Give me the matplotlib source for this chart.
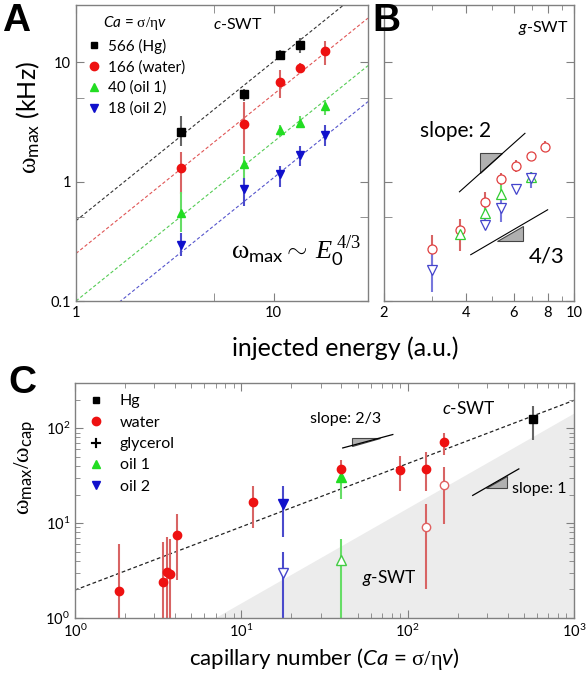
import numpy as np
import matplotlib
matplotlib.use("Agg")
import matplotlib.pyplot as plt
from matplotlib.lines import Line2D
from matplotlib.patches import Polygon
from matplotlib.ticker import FixedLocator, NullFormatter, FixedFormatter, LogLocator

plt.rcParams['font.family'] = ['Lato', 'DejaVu Sans']
plt.rcParams['mathtext.fontset'] = 'custom'
plt.rcParams['mathtext.rm'] = 'Liberation Serif'
plt.rcParams['mathtext.it'] = 'Lato:italic'
plt.rcParams['mathtext.sf'] = 'Lato'
plt.rcParams['mathtext.bf'] = 'Liberation Serif:italic'   # used for the serif italic E

# ---- panel A : c-SWT, omega_max vs injected energy ----
energy_a = [3.4, 7.1, 10.8, 13.6, 18.2]
hg_a = [2.58, 5.4, 11.4, 13.9]
hg_a_lo = [2.0, 4.7, 10.4, 11.9]
hg_a_hi = [3.5, 6.0, 12.6, 15.9]
water_a = [1.29, 3.0, 6.8, 8.9, 12.3]
water_a_lo = [0.78, 1.7, 5.0, 8.1, 9.5]
water_a_hi = [1.75, 4.6, 8.6, 9.8, 15.0]
oil1_a = [0.54, 1.39, 2.7, 3.1, 4.3]
oil1_a_lo = [0.38, 0.93, 2.4, 2.8, 3.6]
oil1_a_hi = [0.82, 1.65, 2.95, 3.5, 4.8]
oil2_a = [0.295, 0.86, 1.15, 1.66, 2.45]
oil2_a_lo = [0.24, 0.62, 0.9, 1.34, 1.97]
oil2_a_hi = [0.37, 1.06, 1.36, 2.0, 2.95]
fit_a_prefactor = [0.47, 0.25, 0.1, 0.05]   # Hg, water, oil1, oil2 ; exponent 4/3
labels_a = ['566 (Hg)', '166 (water)', '40 (oil 1)', '18 (oil 2)']

# ---- panel B : g-SWT ----
water_b_x = [3.0, 3.8, 4.7, 5.4, 6.1, 6.95, 7.8]
water_b = [0.27, 0.39, 0.68, 1.04, 1.36, 1.62, 1.96]
water_b_lo = [0.2, 0.26, 0.54, 0.93, 1.21, 1.54, 1.82]
water_b_hi = [0.36, 0.49, 0.82, 1.17, 1.5, 1.7, 2.17]
oil1_b_x = [3.8, 4.7, 5.4, 6.95]
oil1_b = [0.365, 0.54, 0.79, 1.1]
oil1_b_lo = [0.33, 0.49, 0.7, 1.0]
oil1_b_hi = [0.41, 0.6, 0.93, 1.2]
oil2_b_x = [3.0, 4.7, 5.4, 6.1, 6.95]
oil2_b = [0.18, 0.435, 0.60, 0.86, 1.06]
oil2_b_lo = [0.12, 0.41, 0.46, 0.82, 0.88]
oil2_b_hi = [0.26, 0.49, 0.72, 0.9, 1.2]

# ---- panel C : omega_max/omega_cap vs capillary number ----
water_ca = [1.85, 3.40, 3.56, 3.74, 4.12, 11.8, 39.6, 90, 129, 166]
water_c = [1.94, 2.39, 3.05, 2.88, 7.48, 16.8, 37.3, 36.7, 37.3, 71.3]
water_c_lo = [0.5, 0.5, 0.5, 0.5, 2.5, 8.8, 31, 21.7, 22, 52]
water_c_hi = [5.97, 6.3, 7.1, 6.8, 12.4, 24.5, 46, 50.7, 56.5, 90]
water_open_ca = [129, 166]
water_open_c = [9.0, 25]
water_open_lo = [2.0, 9.9]
water_open_hi = [15.9, 38.6]
hg_ca = [570]
hg_c = [124]
hg_c_lo = [75]
hg_c_hi = [172]
oil1_ca = [40]
oil1_c = [30.3]
oil1_c_lo = [17.8]
oil1_c_hi = [40]
oil1_open_c = [4.08]
oil1_open_lo = [0.5]
oil1_open_hi = [6.8]
oil2_ca = [17.9]
oil2_c = [15.9]
oil2_c_lo = [7.1]
oil2_c_hi = [24.5]
oil2_open_c = [2.95]
oil2_open_lo = [0.5]
oil2_open_hi = [5.0]
fit_c_prefactor = 1.97      # exponent 2/3
gswt_bound = 6.9            # omega ratio = Ca / 6.9

BLACK, RED, GREEN, BLUE = '#000000', '#ee1111', '#22dd22', '#1010cc'
EBLACK, ERED, EGREEN, EBLUE = '#666666', '#d86464', '#66dd66', '#4a4acc'
SPINE = '#808080'


def errs(y, lo, hi):
    y = np.asarray(y)
    return [y - np.asarray(lo), np.asarray(hi) - y]


def style(ax):
    for s in ax.spines.values():
        s.set_color(SPINE)
        s.set_linewidth(1.0)
    ax.tick_params(which='both', direction='in', top=True, right=True,
                   color=SPINE, labelsize=10.5)
    ax.tick_params(which='major', length=6)
    ax.tick_params(which='minor', length=3.5)


fig = plt.figure(figsize=(5.86, 6.84), dpi=100)
axA = fig.add_axes([76 / 586, 1 - 301 / 684, 292 / 586, 296 / 684])
axB = fig.add_axes([384 / 586, 1 - 301 / 684, 190 / 586, 296 / 684])
axC = fig.add_axes([75 / 586, 1 - 618 / 684, 499 / 586, 235 / 684])

# ---------------- A ----------------
ax = axA
ax.set_xscale('log')
ax.set_yscale('log')
ax.set_xlim(1, 30)
ax.set_ylim(0.1, 30)
xx = np.array([1, 30])
for k, c in zip(fit_a_prefactor, ['#333333', '#e05555', '#55cc55', '#5555cc']):
    ax.plot(xx, k * xx ** (4 / 3), ls=(0, (3, 2)), lw=0.8, color=c, zorder=1)
series = [(energy_a[:4], hg_a, hg_a_lo, hg_a_hi, 's', BLACK, EBLACK),
          (energy_a, water_a, water_a_lo, water_a_hi, 'o', RED, ERED),
          (energy_a, oil1_a, oil1_a_lo, oil1_a_hi, '^', GREEN, EGREEN),
          (energy_a, oil2_a, oil2_a_lo, oil2_a_hi, 'v', BLUE, EBLUE)]
handles = []
for (x, y, lo, hi, m, c, ec), lab in zip(series, labels_a):
    ax.errorbar(x, y, yerr=errs(y, lo, hi), fmt='none', ecolor=ec, elinewidth=1.5, zorder=2)
    ax.plot(x, y, ls='none', marker=m, ms=6 if m != 's' else 5.5, color=c, zorder=3)
    handles.append(Line2D([], [], ls='none', marker=m, ms=6 if m != 's' else 5, color=c, label=lab))
leg = ax.legend(handles=handles, loc='upper left', frameon=False, fontsize=11,
                title=r'$\mathit{Ca}$ = $\mathrm{\sigma/\eta}\mathit{v}$', title_fontsize=11,
                handletextpad=0.3, labelspacing=0.42, borderaxespad=0.2, handlelength=1.2,
                bbox_to_anchor=(0.0, 1.0))
ax.text(0.47, 0.92, r'$\mathit{c}$-SWT', transform=ax.transAxes, fontsize=11.5)
ax.text(0.53, 0.14, r'$\mathrm{\omega}_{\mathsf{max}}\mathsf{\sim}\,\mathbf{E}_{\mathsf{0}}^{\ \mathrm{4/3}}$',
        transform=ax.transAxes, fontsize=19)
ax.xaxis.set_major_locator(FixedLocator([1, 10]))
ax.xaxis.set_major_formatter(FixedFormatter(['1', '10']))
ax.xaxis.set_minor_locator(FixedLocator([5]))
ax.xaxis.set_minor_formatter(NullFormatter())
ax.yaxis.set_major_locator(FixedLocator([0.1, 1, 10]))
ax.yaxis.set_major_formatter(FixedFormatter(['0.1', '1', '10']))
ax.yaxis.set_minor_locator(FixedLocator([0.5, 5]))
ax.yaxis.set_minor_formatter(NullFormatter())
style(ax)
ax.tick_params(which='minor', length=6)
ax.set_ylabel(r'$\mathrm{\omega}_{\mathsf{max}}$ (kHz)', fontsize=18)
ax.yaxis.set_label_coords(-0.115, 0.62)

# ---------------- B ----------------
ax = axB
ax.set_xscale('log')
ax.set_yscale('log')
ax.set_xlim(2, 10)
ax.set_ylim(0.1, 30)
for x, y, lo, hi, m, c, ec in [(water_b_x, water_b, water_b_lo, water_b_hi, 'o', '#e04040', ERED),
                               (oil1_b_x, oil1_b, oil1_b_lo, oil1_b_hi, '^', '#33cc33', EGREEN),
                               (oil2_b_x, oil2_b, oil2_b_lo, oil2_b_hi, 'v', '#4444cc', '#7777dd')]:
    ax.errorbar(x, y, yerr=errs(y, lo, hi), fmt='none', ecolor=ec, elinewidth=1.5, zorder=2)
    ax.plot(x, y, ls='none', marker=m, ms=6.5, mfc='white', mec=c, mew=0.9, zorder=3)
# slope guides
ax.plot([3.79, 6.6], [0.82, 2.53], color='black', lw=0.8)
ax.add_patch(Polygon([[4.5, 1.17], [4.5, 1.72], [5.42, 1.72]], closed=True,
                     fc='#b0b0b0', ec='#444444', lw=0.8))
ax.plot([4.17, 8.0], [0.244, 0.58], color='black', lw=0.8)
ax.add_patch(Polygon([[5.2, 0.319], [6.49, 0.319], [6.49, 0.427]], closed=True,
                     fc='#b0b0b0', ec='#444444', lw=0.8))
ax.text(0.19, 0.555, 'slope: 2', transform=ax.transAxes, fontsize=15)
ax.text(0.76, 0.13, '4/3', transform=ax.transAxes, fontsize=16)
ax.text(0.97, 0.91, r'$\mathit{g}$-SWT', transform=ax.transAxes, fontsize=11.5, ha='right')
ax.xaxis.set_major_locator(FixedLocator([2, 4, 6, 8, 10]))
ax.xaxis.set_major_formatter(FixedFormatter(['2', '4', '6', '8', '10']))
ax.xaxis.set_minor_locator(FixedLocator([3, 5, 7, 9]))
ax.xaxis.set_minor_formatter(NullFormatter())
ax.yaxis.set_major_locator(FixedLocator([0.1, 1, 10]))
ax.yaxis.set_minor_locator(FixedLocator([0.5, 5]))
ax.yaxis.set_major_formatter(NullFormatter())
ax.yaxis.set_minor_formatter(NullFormatter())
style(ax)
ax.tick_params(axis='y', which='minor', length=6)

fig.text(345 / 586, 1 - 348 / 684, 'injected energy (a.u.)', ha='center', va='center', fontsize=18)

# ---------------- C ----------------
ax = axC
ax.set_xscale('log')
ax.set_yscale('log')
ax.set_xlim(1, 1000)
ax.set_ylim(1, 300)
xx = np.array([1, 1000])
ax.fill_between(xx, 0.1, xx / gswt_bound, color='#ececec', lw=0, zorder=0)
ax.plot(xx, fit_c_prefactor * xx ** (2 / 3), ls=(0, (3, 2)), lw=0.9, color='#222222', zorder=1)
ax.errorbar(water_ca, water_c, yerr=errs(water_c, water_c_lo, water_c_hi), fmt='none',
            ecolor=ERED, elinewidth=1.5, zorder=2)
ax.errorbar(water_open_ca, water_open_c, yerr=errs(water_open_c, water_open_lo, water_open_hi),
            fmt='none', ecolor=ERED, elinewidth=1.5, zorder=2)
ax.errorbar(hg_ca, hg_c, yerr=errs(hg_c, hg_c_lo, hg_c_hi), fmt='none', ecolor=EBLACK,
            elinewidth=1.5, zorder=2)
ax.errorbar(oil1_ca, oil1_c, yerr=errs(oil1_c, oil1_c_lo, oil1_c_hi), fmt='none', ecolor=EGREEN,
            elinewidth=1.5, zorder=2)
ax.errorbar(oil1_ca, oil1_open_c, yerr=errs(oil1_open_c, oil1_open_lo, oil1_open_hi), fmt='none',
            ecolor=EGREEN, elinewidth=1.5, zorder=2)
ax.errorbar(oil2_ca, oil2_c, yerr=errs(oil2_c, oil2_c_lo, oil2_c_hi), fmt='none', ecolor=EBLUE,
            elinewidth=1.5, zorder=2)
ax.errorbar(oil2_ca, oil2_open_c, yerr=errs(oil2_open_c, oil2_open_lo, oil2_open_hi), fmt='none',
            ecolor=EBLUE, elinewidth=1.5, zorder=2)
ax.plot(oil1_ca, oil1_c, ls='none', marker='^', ms=6.5, color=GREEN, zorder=3)
ax.plot(water_ca, water_c, ls='none', marker='o', ms=6, color=RED, zorder=4)
ax.plot(water_open_ca, water_open_c, ls='none', marker='o', ms=6, mfc='white', mec='#e06060', zorder=4)
ax.plot(hg_ca, hg_c, ls='none', marker='s', ms=5.5, color=BLACK, zorder=4)
ax.plot(oil2_ca, oil2_c, ls='none', marker='v', ms=6.5, color=BLUE, zorder=4)
ax.plot(oil1_ca, oil1_open_c, ls='none', marker='^', ms=7, mfc='white', mec='#44cc44', zorder=4)
ax.plot(oil2_ca, oil2_open_c, ls='none', marker='v', ms=7, mfc='white', mec='#4444cc', zorder=4)
# slope guides
ax.plot([40.7, 81.4], [62, 85.9], color='black', lw=0.9)
ax.add_patch(Polygon([[46.1, 65.8], [46.1, 79], [68.2, 79]], closed=True,
                     fc='#b0b0b0', ec='#444444', lw=0.8))
ax.text(0.47, 0.83, 'slope: 2/3', transform=ax.transAxes, fontsize=11.5)
ax.plot([246, 466], [19.6, 37.3], color='black', lw=0.9)
ax.add_patch(Polygon([[296, 23.2], [398, 23.2], [398, 31.2]], closed=True,
                     fc='#b0b0b0', ec='#444444', lw=0.8))
ax.text(0.875, 0.53, 'slope: 1', transform=ax.transAxes, fontsize=11.5)
ax.text(0.735, 0.87, r'$\mathit{c}$-SWT', transform=ax.transAxes, fontsize=12.5)
ax.text(0.575, 0.15, r'$\mathit{g}$-SWT', transform=ax.transAxes, fontsize=12.5)
hc = [Line2D([], [], ls='none', marker='s', ms=5, color=BLACK, label='Hg'),
      Line2D([], [], ls='none', marker='o', ms=6, color=RED, label='water'),
      Line2D([], [], ls='none', marker='$+$', ms=7, color='black', mew=0.1, label='glycerol'),
      Line2D([], [], ls='none', marker='^', ms=6, color=GREEN, label='oil 1'),
      Line2D([], [], ls='none', marker='v', ms=6, color=BLUE, label='oil 2')]
ax.legend(handles=hc, loc='upper left', frameon=False, fontsize=11.5, handletextpad=0.9,
          labelspacing=0.45, borderaxespad=0.3, handlelength=1.2)
ax.xaxis.set_major_locator(LogLocator(base=10, numticks=10))
ax.xaxis.set_minor_locator(LogLocator(base=10, subs=np.arange(2, 10), numticks=20))
ax.yaxis.set_major_locator(LogLocator(base=10, numticks=10))
ax.yaxis.set_minor_locator(LogLocator(base=10, subs=np.arange(2, 10), numticks=20))
ax.xaxis.set_minor_formatter(NullFormatter())
ax.yaxis.set_minor_formatter(NullFormatter())
style(ax)
ax.set_xlabel(r'capillary number ($\mathit{Ca}$ = $\mathrm{\sigma/\eta}\mathit{v}$)', fontsize=16, labelpad=4)
ax.set_ylabel(r'$\mathrm{\omega}_{\mathsf{max}}/\mathrm{\omega}_{\mathsf{cap}}$', fontsize=17)
ax.yaxis.set_label_coords(-0.075, 0.64)

for lab, x, y in [('A', 2, 3), ('B', 372, 3), ('C', 8, 365)]:
    fig.text(x / 586, 1 - y / 684, lab, fontsize=28, fontweight='bold',
             family='Liberation Sans', va='top', ha='left')

fig.savefig('out.png', dpi=100)
